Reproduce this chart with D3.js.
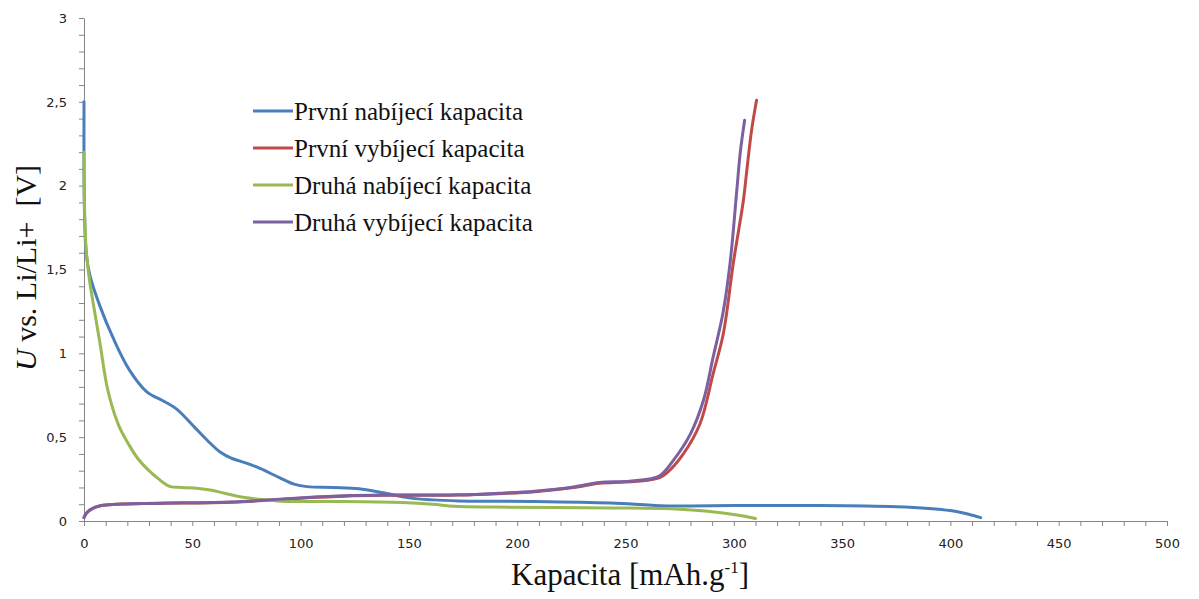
<!DOCTYPE html>
<html><head><meta charset="utf-8">
<script src="https://cdn.jsdelivr.net/npm/d3@7"></script>
<style>body{margin:0;background:#fff;}svg{display:block;}</style>
</head><body>
<svg id="c" width="1199" height="599"></svg>
<script>
// ---- data ----
const seriesNames = ["První nabíjecí kapacita","První vybíjecí kapacita","Druhá nabíjecí kapacita","Druhá vybíjecí kapacita"];
const firstCharge = [[0,2.5],[0,2.1],[0.3,1.8],[1,1.6],[2.8,1.46],[7.4,1.28],[13.5,1.09],[21,0.9],[29,0.77],[36,0.72],[42.5,0.67],[51,0.56],[57,0.48],[63,0.41],[68,0.375],[75,0.345],[81,0.315],[90,0.26],[97,0.22],[103,0.205],[115,0.2],[127,0.193],[138,0.168],[150,0.138],[161,0.126],[173,0.12],[208,0.116],[243,0.107],[257,0.098],[266,0.091],[280,0.09],[300,0.092],[340,0.092],[375,0.085],[390,0.075],[400,0.062],[408,0.042],[414,0.02]];
const firstDischarge = [[0,0.02],[1,0.045],[3,0.068],[8,0.092],[15,0.1],[33,0.105],[68,0.112],[85,0.124],[103,0.138],[120,0.148],[138,0.153],[173,0.155],[191,0.163],[208,0.175],[226,0.2],[238,0.225],[250,0.232],[261,0.245],[266,0.26],[269,0.285],[276.7,0.4],[284.4,0.58],[290.5,0.88],[295.2,1.12],[299.8,1.54],[304.4,1.91],[306,2.09],[308.2,2.33],[310.5,2.51]];
const secondCharge = [[0,2.2],[0.2,1.9],[1,1.62],[2.5,1.44],[4.5,1.28],[7.5,1.05],[11,0.78],[16,0.57],[20.5,0.46],[25,0.37],[30,0.3],[35,0.245],[39.5,0.207],[45,0.2],[52,0.195],[59,0.183],[65,0.165],[72,0.145],[82,0.128],[91,0.118],[105,0.116],[120,0.116],[147,0.11],[161,0.1],[171,0.088],[190,0.083],[243,0.078],[273,0.072],[288,0.058],[303,0.033],[310,0.015]];
const secondDischarge = [[0,0.02],[1,0.045],[3,0.068],[8,0.092],[15,0.1],[33,0.106],[68,0.113],[85,0.126],[103,0.14],[120,0.15],[138,0.155],[173,0.156],[191,0.165],[208,0.178],[226,0.203],[238,0.23],[250,0.236],[261,0.25],[266,0.272],[272,0.36],[280,0.52],[286,0.72],[290.5,0.98],[295,1.24],[298.3,1.54],[301.3,1.96],[303,2.2],[305,2.39]];
const xTicks = d3.range(0, 501, 10);
const yTicks = d3.range(0, 31, 1).map(v => v/10);
const xLabelStep = 50, yLabelStep = 0.5;
const colors = ["#4A7EBB","#BE4B48","#98B954","#7D60A0"];

// ---- layout ----
const svg = d3.select("#c");
const X0 = 84, X1 = 1167, Y0 = 521, Y1 = 18;
const x = d3.scaleLinear().domain([0,500]).range([X0,X1]);
const y = d3.scaleLinear().domain([0,3]).range([Y0,Y1]);
const fmt = v => String(+v.toFixed(1)).replace(".", ",");
const serif = "'Liberation Serif','Times New Roman',serif";

const xAxis = svg.append("g").attr("transform",`translate(0,${Y0})`)
  .call(d3.axisBottom(x).tickValues(xTicks).tickSizeInner(5).tickSizeOuter(0)
    .tickFormat(v => (Math.abs(v % xLabelStep) < 1e-9) ? fmt(v) : ""));
const yAxis = svg.append("g").attr("transform",`translate(${X0},0)`)
  .call(d3.axisLeft(y).tickValues(yTicks).tickSizeInner(5).tickSizeOuter(0)
    .tickFormat(v => (Math.abs((v/yLabelStep) - Math.round(v/yLabelStep)) < 1e-6) ? fmt(v) : ""));
[xAxis, yAxis].forEach(g => {
  g.select(".domain").attr("stroke","#868686").attr("stroke-width",1);
  g.selectAll(".tick line").attr("stroke","#868686");
  g.selectAll(".tick text").attr("fill","#222").style("font-family","'DejaVu Sans', Verdana, sans-serif").style("font-size","13px");
});
xAxis.selectAll(".tick text").attr("dy","1.45em");
yAxis.selectAll(".tick text").attr("x",-17);

// ---- lines ----
const line = d3.line().x(d => x(d[0])).y(d => y(d[1])).curve(d3.curveCatmullRom.alpha(0.5));
const data = [firstCharge, firstDischarge, secondCharge, secondDischarge];
svg.append("g").selectAll("path").data(data).join("path")
  .attr("d", line).attr("fill","none")
  .attr("stroke", (d,i) => colors[i]).attr("stroke-width",3)
  .attr("stroke-linejoin","round").attr("stroke-linecap","round");

// ---- legend ----
const leg = svg.append("g").attr("transform","translate(253,111)");
seriesNames.forEach((n,i) => {
  const g = leg.append("g").attr("transform",`translate(0,${i*37})`);
  g.append("line").attr("x1",0).attr("x2",40).attr("y1",0).attr("y2",0)
    .attr("stroke",colors[i]).attr("stroke-width",3);
  g.append("text").attr("x",41).attr("y",9).text(n)
    .style("font-family",serif).style("font-size","25px").attr("fill","#111");
});

// ---- axis titles ----
const yt = svg.append("text").attr("transform","translate(36,268) rotate(-90)")
  .attr("text-anchor","middle").style("white-space","pre")
  .style("font-family",serif).style("font-size","30px").attr("fill","#111");
yt.append("tspan").style("font-style","italic").text("U");
yt.append("tspan").text(" vs. Li/Li+  [V]");

const xt = svg.append("text").attr("x",630).attr("y",585).attr("text-anchor","middle")
  .style("font-family",serif).style("font-size","31px").attr("fill","#111");
xt.append("tspan").text("Kapacita [mAh.g");
xt.append("tspan").text("-1").style("font-size","17px").attr("dy","-12");
xt.append("tspan").text("]").attr("dy","12");
</script>
</body></html>
